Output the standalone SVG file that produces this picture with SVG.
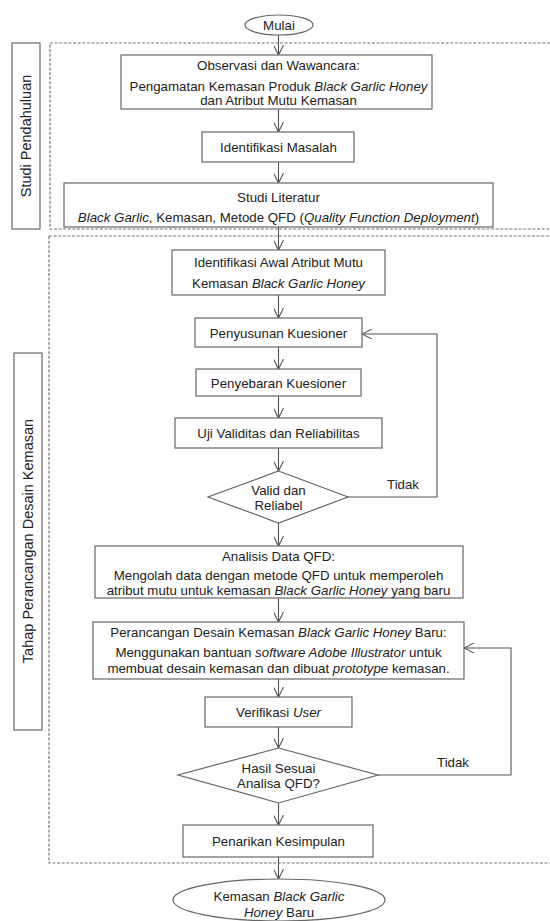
<svg xmlns="http://www.w3.org/2000/svg" width="550" height="921" viewBox="0 0 550 921">
<style>
.box{fill:#fff;stroke:#666;stroke-width:1.2}
.lab{fill:#fff;stroke:#666;stroke-width:1.2}
.dash{fill:none;stroke:#777;stroke-width:1.2;stroke-dasharray:3,1.6}
.con{fill:none;stroke:#555;stroke-width:1.1}
text{font-family:"Liberation Sans",Arial,sans-serif;font-size:13.3px;fill:#222;text-anchor:middle}
.side{font-size:14.5px}
.i{font-style:italic}
.l{text-anchor:start}
</style>
<defs>
<marker id="ah" viewBox="0 0 10 10" refX="10" refY="5" markerWidth="10" markerHeight="10" markerUnits="userSpaceOnUse" orient="auto">
<path d="M0,0 L10,5 L0,10" fill="none" stroke="#555" stroke-width="1.1"/>
</marker>
</defs>
<rect class="dash" x="50" y="43" width="520" height="186"/>
<rect class="dash" x="49" y="236" width="520" height="627"/>
<g id="lab1"><rect class="lab" x="12" y="43" width="28" height="186"/><text class="side" transform="translate(31,136) rotate(-90)">Studi Pendahuluan</text></g>
<g id="lab2"><rect class="lab" x="14" y="353" width="28" height="377"/><text class="side" transform="translate(33,541) rotate(-90)">Tahap Perancangan Desain Kemasan</text></g>
<g id="connectors">
<line class="con" x1="278.5" y1="35" x2="278.5" y2="55" marker-end="url(#ah)"/>
<line class="con" x1="278.5" y1="109" x2="278.5" y2="132" marker-end="url(#ah)"/>
<line class="con" x1="278.5" y1="162" x2="278.5" y2="183" marker-end="url(#ah)"/>
<line class="con" x1="278.5" y1="227" x2="278.5" y2="250" marker-end="url(#ah)"/>
<line class="con" x1="278.5" y1="295" x2="278.5" y2="318" marker-end="url(#ah)"/>
<line class="con" x1="278.5" y1="347" x2="278.5" y2="369" marker-end="url(#ah)"/>
<line class="con" x1="278.5" y1="396" x2="278.5" y2="418" marker-end="url(#ah)"/>
<line class="con" x1="278.5" y1="448" x2="278.5" y2="471" marker-end="url(#ah)"/>
<line class="con" x1="278.5" y1="523" x2="278.5" y2="546" marker-end="url(#ah)"/>
<line class="con" x1="278.5" y1="598" x2="278.5" y2="622" marker-end="url(#ah)"/>
<line class="con" x1="278.5" y1="679" x2="278.5" y2="697" marker-end="url(#ah)"/>
<line class="con" x1="278.5" y1="727" x2="278.5" y2="748" marker-end="url(#ah)"/>
<line class="con" x1="278.5" y1="803" x2="278.5" y2="825" marker-end="url(#ah)"/>
<line class="con" x1="278.5" y1="857" x2="278.5" y2="879" marker-end="url(#ah)"/>
<polyline class="con" points="348,497 437,497 437,334 362,334" marker-end="url(#ah)"/>
<polyline class="con" points="378,775 511,775 511,648 464,648" marker-end="url(#ah)"/>
<text class="l" x="387" y="489">Tidak</text>
<text class="l" x="437" y="767">Tidak</text>
</g>
<g id="mulai"><ellipse class="box" cx="279" cy="25" rx="34" ry="10"/><text x="279" y="29.5">Mulai</text></g>
<g id="observasi"><rect class="box" x="121" y="55" width="311" height="54"/>
<text x="278.5" y="70">Observasi dan Wawancara:</text>
<text x="278.5" y="91">Pengamatan Kemasan Produk <tspan class="i">Black Garlic Honey</tspan></text>
<text x="278.5" y="105">dan Atribut Mutu Kemasan</text></g>
<g id="identifikasi"><rect class="box" x="202" y="132" width="152" height="30"/><text x="278.5" y="151.5">Identifikasi Masalah</text></g>
<g id="literatur"><rect class="box" x="64" y="183" width="429" height="44"/>
<text x="278.5" y="201.5">Studi Literatur</text>
<text x="278.5" y="221.5"><tspan class="i">Black Garlic</tspan>, Kemasan, Metode QFD (<tspan class="i">Quality Function Deployment</tspan>)</text></g>
<g id="awal"><rect class="box" x="172" y="250" width="213" height="45"/>
<text x="278.5" y="267">Identifikasi Awal Atribut Mutu</text>
<text x="278.5" y="287.5">Kemasan <tspan class="i">Black Garlic Honey</tspan></text></g>
<g id="penyusunan"><rect class="box" x="195" y="318" width="167" height="29"/><text x="278.5" y="337.5">Penyusunan Kuesioner</text></g>
<g id="penyebaran"><rect class="box" x="196" y="369" width="165" height="27"/><text x="278.5" y="387.5">Penyebaran Kuesioner</text></g>
<g id="uji"><rect class="box" x="175" y="418" width="207" height="30"/><text x="278.5" y="437.5">Uji Validitas dan Reliabilitas</text></g>
<g id="valid"><polygon class="box" points="278.5,471 348,497 278.5,523 208,497"/>
<text x="278.5" y="494.5">Valid dan</text><text x="278.5" y="509.5">Reliabel</text></g>
<g id="analisis"><rect class="box" x="95" y="546" width="368" height="52"/>
<text x="278.5" y="560.5">Analisis Data QFD:</text>
<text x="278.5" y="579.5">Mengolah data dengan metode QFD untuk memperoleh</text>
<text x="278.5" y="594.5">atribut mutu untuk kemasan <tspan class="i">Black Garlic Honey</tspan> yang baru</text></g>
<g id="perancangan"><rect class="box" x="93" y="622" width="371" height="57"/>
<text x="278.5" y="636.5">Perancangan Desain Kemasan <tspan class="i">Black Garlic Honey</tspan> Baru:</text>
<text x="278.5" y="656.5">Menggunakan bantuan <tspan class="i">software Adobe Illustrator</tspan> untuk</text>
<text x="278.5" y="672.5">membuat desain kemasan dan dibuat <tspan class="i">prototype</tspan> kemasan.</text></g>
<g id="verifikasi"><rect class="box" x="205" y="697" width="147" height="30"/><text x="278.5" y="716.5">Verifikasi <tspan class="i">User</tspan></text></g>
<g id="hasil"><polygon class="box" points="278.5,748 378,775 278.5,803 178,775"/>
<text x="278.5" y="772.5">Hasil Sesuai</text><text x="278.5" y="787.5">Analisa QFD?</text></g>
<g id="penarikan"><rect class="box" x="183" y="825" width="190" height="32"/><text x="278.5" y="845.5">Penarikan Kesimpulan</text></g>
<g id="selesai"><ellipse class="box" cx="279" cy="900" rx="106" ry="21"/>
<text x="279" y="900.5">Kemasan <tspan class="i">Black Garlic</tspan></text>
<text x="279" y="916.5"><tspan class="i">Honey</tspan> Baru</text></g>
</svg>
